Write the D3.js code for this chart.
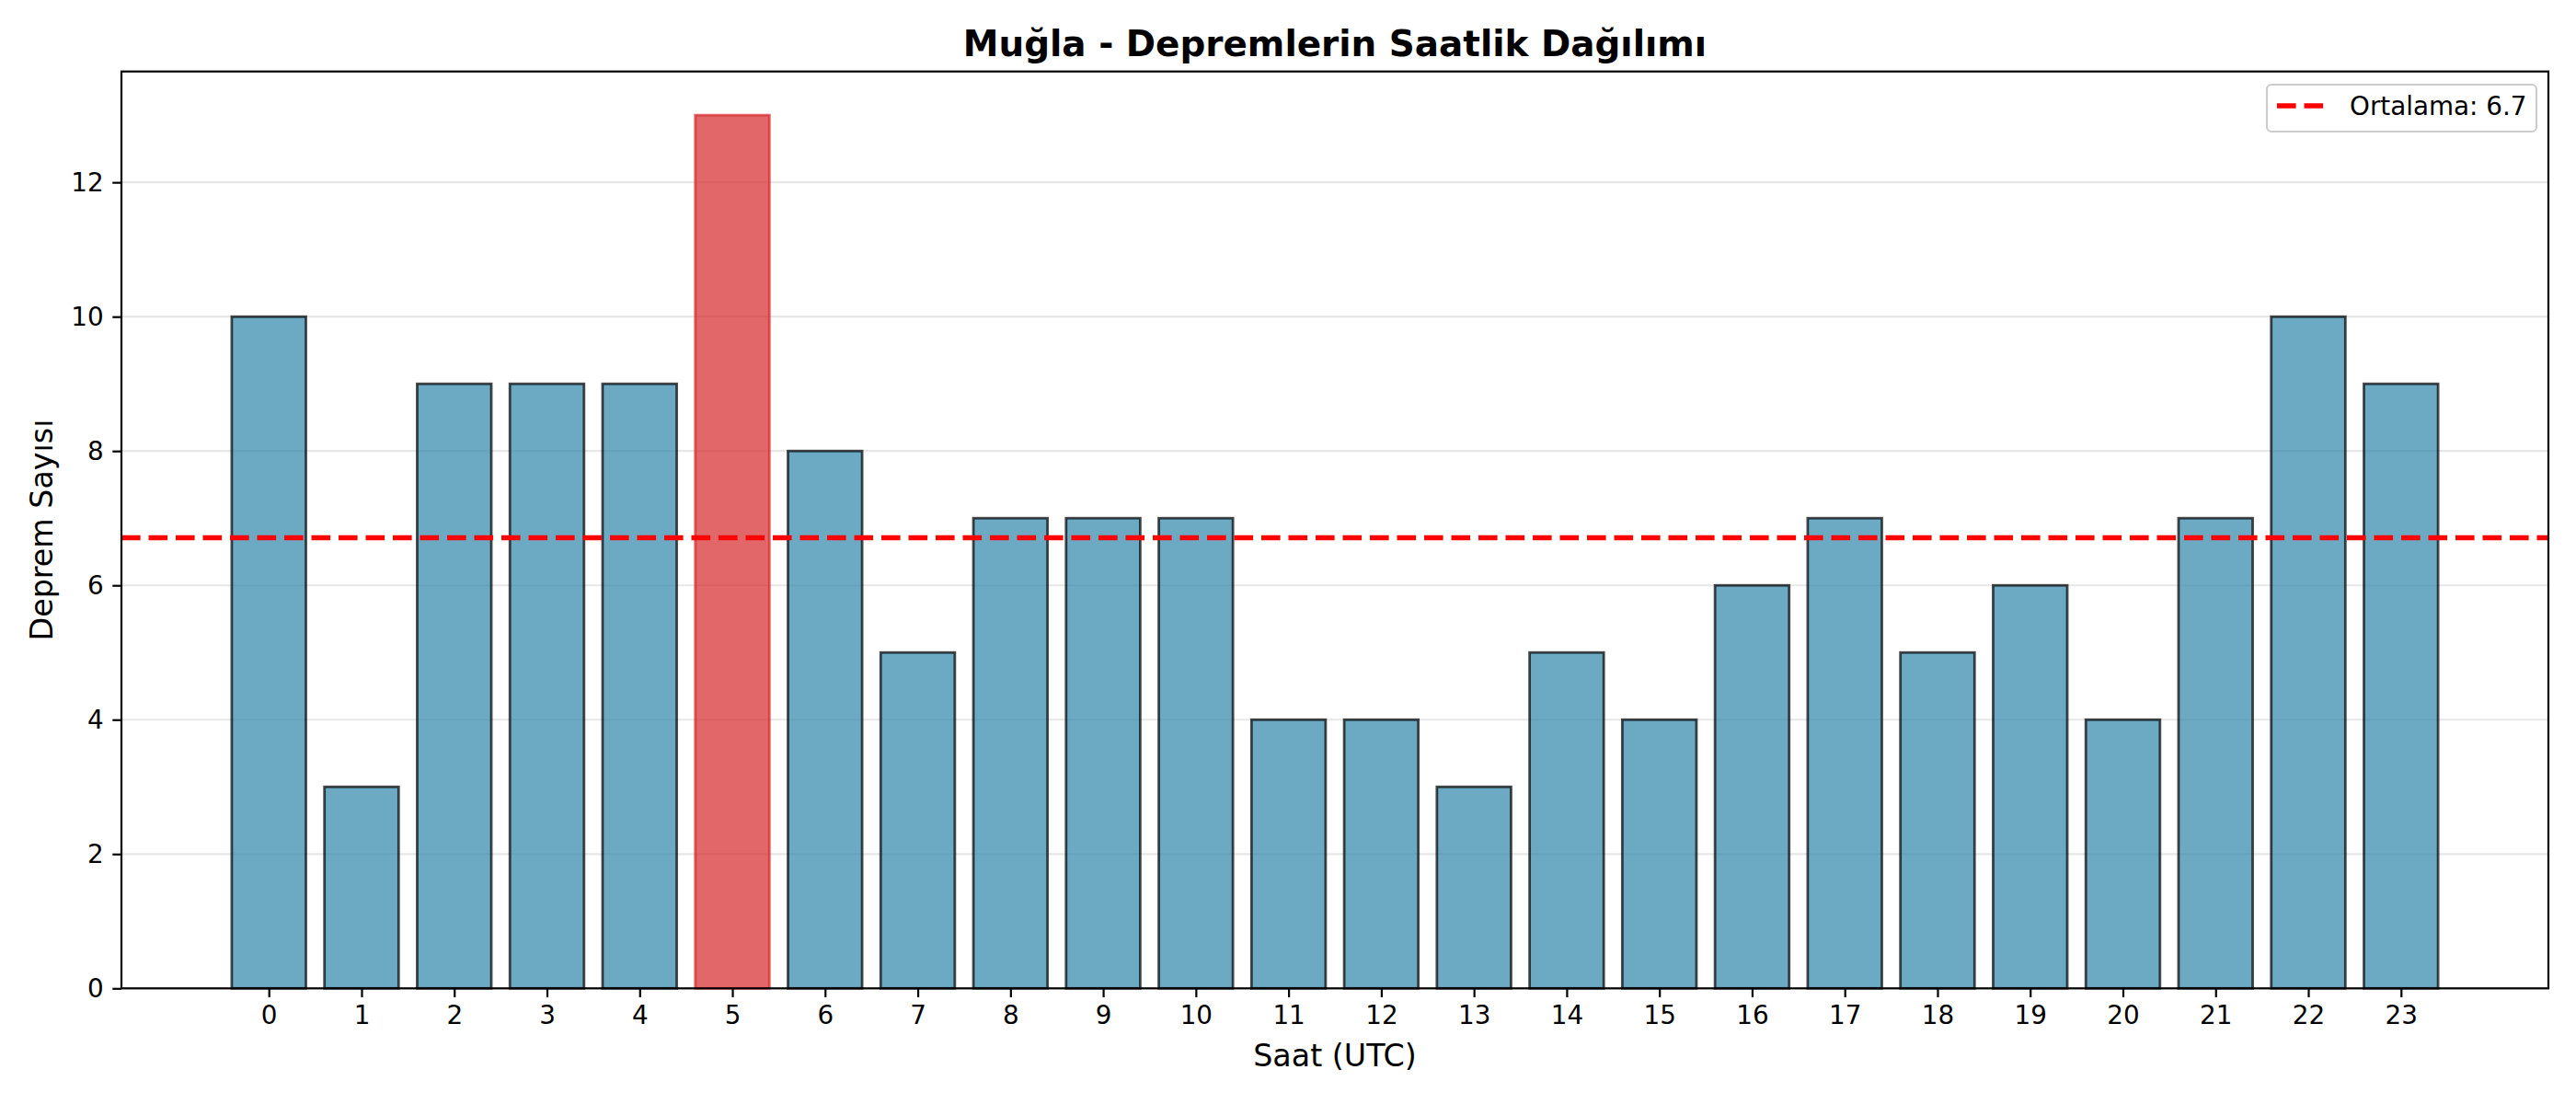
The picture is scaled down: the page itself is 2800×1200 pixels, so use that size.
<!DOCTYPE html>
<html>
<head>
<meta charset="utf-8">
<script src="https://cdn.jsdelivr.net/npm/d3@7"></script>
<style>
  html, body { margin: 0; padding: 0; background: #fff; }
  svg { display: block; }
  text { font-family: "DejaVu Sans", sans-serif; fill: #000; }
</style>
</head>
<body>
<svg id="chart" width="2800" height="1200"></svg>
<script>
const hours = d3.range(0, 24);
const counts = [10, 3, 9, 9, 9, 13, 8, 5, 7, 7, 7, 4, 4, 3, 5, 4, 6, 7, 5, 6, 4, 7, 10, 9];
const yTicks = [0, 2, 4, 6, 8, 10, 12];
const titleText = "Muğla - Depremlerin Saatlik Dağılımı";
const xLabelText = "Saat (UTC)";
const yLabelText = "Deprem Sayısı";
const meanValue = d3.mean(counts);
const legendText = "Ortalama: " + meanValue.toFixed(1);

const svg = d3.select("#chart");
const mLeft = 132, mRight = 2770, mTop = 77.7, mBottom = 1074.3;
const barW = 0.8;
const maxIdx = counts.indexOf(d3.max(counts));

const x = d3.scaleLinear()
  .domain([-barW / 2 - 0.05 * (23 + barW), 23 + barW / 2 + 0.05 * (23 + barW)])
  .range([mLeft, mRight]);
const y = d3.scaleLinear().domain([0, d3.max(counts) * 1.05]).range([mBottom, mTop]);

// grid
svg.append("g").selectAll("line").data(yTicks).join("line")
  .attr("x1", mLeft).attr("x2", mRight)
  .attr("y1", d => y(d)).attr("y2", d => y(d))
  .attr("stroke", "#b0b0b0").attr("stroke-opacity", 0.3).attr("stroke-width", 2.2);

// bars
svg.append("g").selectAll("rect").data(counts).join("rect")
  .attr("x", (d, i) => x(hours[i] - barW / 2))
  .attr("width", (d, i) => x(hours[i] + barW / 2) - x(hours[i] - barW / 2))
  .attr("y", d => y(d))
  .attr("height", d => y(0) - y(d))
  .attr("fill", (d, i) => i === maxIdx ? "#d62728" : "#2E86AB")
  .attr("fill-opacity", 0.7)
  .attr("stroke", (d, i) => i === maxIdx ? "#d62728" : "#000")
  .attr("stroke-opacity", 0.7)
  .attr("stroke-width", 2.8);

// mean line
svg.append("line")
  .attr("x1", mLeft).attr("x2", mRight)
  .attr("y1", y(meanValue)).attr("y2", y(meanValue))
  .attr("stroke", "#ff0000").attr("stroke-width", 5.6)
  .attr("stroke-dasharray", "20.6 8.9");

// axes
const xAxis = d3.axisBottom(x).tickValues(hours).tickSize(9.7).tickPadding(9.7).tickFormat(d3.format("d"));
const yAxis = d3.axisLeft(y).tickValues(yTicks).tickSize(9.7).tickPadding(9.7).tickFormat(d3.format("d"));

const gx = svg.append("g").attr("transform", `translate(0,${mBottom})`).call(xAxis);
const gy = svg.append("g").attr("transform", `translate(${mLeft},0)`).call(yAxis);
[gx, gy].forEach(g => {
  g.select(".domain").remove();
  g.selectAll(".tick line").attr("stroke", "#000").attr("stroke-width", 2.2);
  g.selectAll(".tick text").attr("font-size", 27.8).attr("font-family", "DejaVu Sans").attr("fill", "#000");
});

// frame
svg.append("rect")
  .attr("x", mLeft).attr("y", mTop)
  .attr("width", mRight - mLeft).attr("height", mBottom - mTop)
  .attr("fill", "none").attr("stroke", "#000").attr("stroke-width", 2.2);

// title and labels
svg.append("text")
  .attr("x", (mLeft + mRight) / 2).attr("y", 61)
  .attr("text-anchor", "middle").attr("font-size", 38.9).attr("font-weight", "bold")
  .text(titleText);
svg.append("text")
  .attr("x", (mLeft + mRight) / 2).attr("y", 1159)
  .attr("text-anchor", "middle").attr("font-size", 33.3)
  .text(xLabelText);
svg.append("text")
  .attr("transform", `translate(57,${(mTop + mBottom) / 2}) rotate(-90)`)
  .attr("text-anchor", "middle").attr("font-size", 33.3)
  .text(yLabelText);

// legend
const lg = svg.append("g");
lg.append("rect")
  .attr("x", 2464).attr("y", 92).attr("width", 293).attr("height", 51)
  .attr("rx", 5).attr("fill", "#fff").attr("fill-opacity", 0.8)
  .attr("stroke", "#cccccc").attr("stroke-width", 2.2);
lg.append("line")
  .attr("x1", 2475).attr("x2", 2531).attr("y1", 115).attr("y2", 115)
  .attr("stroke", "#ff0000").attr("stroke-width", 5.6)
  .attr("stroke-dasharray", "20.6 8.9");
lg.append("text")
  .attr("x", 2554).attr("y", 125).attr("font-size", 27.8)
  .text(legendText);
</script>
</body>
</html>
